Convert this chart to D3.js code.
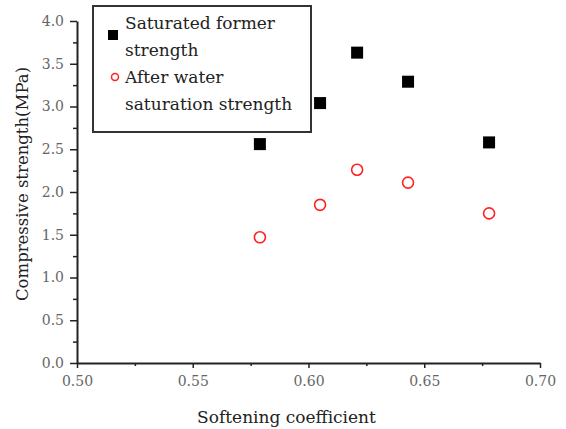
<!DOCTYPE html>
<html>
<head>
<meta charset="utf-8">
<script src="https://cdn.jsdelivr.net/npm/d3@7"></script>
<style>
  body { margin: 0; background: #fff; }
  svg { display: block; }
  .axis path, .axis line { stroke: #222; }
  .axis text { fill: #666; font-family: "DejaVu Serif", serif; font-size: 14px; }
  .lbl { fill: #222; font-family: "DejaVu Serif", serif; }
</style>
</head>
<body>
<div class="chart"></div>
<script>
// data
const softening = [0.579, 0.605, 0.621, 0.643, 0.678];
const formerStrength = [2.56, 3.04, 3.63, 3.29, 2.58];
const waterStrength = [1.47, 1.85, 2.26, 2.11, 1.75];
const xTicks = [0.50, 0.55, 0.60, 0.65, 0.70];
const yTicks = [0.0, 0.5, 1.0, 1.5, 2.0, 2.5, 3.0, 3.5, 4.0];
const legendLines = [['Saturated former', 'strength'], ['After water', 'saturation strength']];

const W = 566, H = 429;
const margin = {top: 21, right: 26, bottom: 66, left: 77};
const innerW = W - margin.left - margin.right;
const innerH = H - margin.top - margin.bottom;

const svg = d3.select('.chart').append('svg').attr('width', W).attr('height', H);
const g = svg.append('g').attr('transform', `translate(${margin.left},${margin.top})`);

const x = d3.scaleLinear().domain([0.5, 0.7]).range([0, innerW]);
const y = d3.scaleLinear().domain([0, 4]).range([innerH, 0]);

// minor ticks first
const xMinor = xTicks.slice(0, -1).map(d => d + 0.025);
const yMinor = yTicks.slice(0, -1).map(d => d + 0.25);
g.append('g').attr('class', 'axis')
  .attr('transform', `translate(0,${innerH})`)
  .call(d3.axisBottom(x).tickValues(xMinor).tickSize(3).tickFormat(''))
  .call(a => a.select('.domain').remove())
  .selectAll('line').attr('stroke-width', 1.5);
g.append('g').attr('class', 'axis')
  .call(d3.axisLeft(y).tickValues(yMinor).tickSize(4).tickFormat(''))
  .call(a => a.select('.domain').remove())
  .selectAll('line').attr('stroke-width', 1.5);

// major
const xAxis = g.append('g').attr('class', 'axis')
  .attr('transform', `translate(0,${innerH})`)
  .call(d3.axisBottom(x).tickValues(xTicks).tickSize(5).tickSizeOuter(0).tickPadding(8).tickFormat(d3.format('.2f')));
const yAxis = g.append('g').attr('class', 'axis')
  .call(d3.axisLeft(y).tickValues(yTicks).tickSize(7).tickSizeOuter(0).tickPadding(6).tickFormat(d3.format('.1f')));
[xAxis, yAxis].forEach(a => {
  a.select('.domain').attr('stroke-width', 2);
  a.selectAll('line').attr('stroke-width', 1.5);
});

// series
const sq = 12;
g.selectAll('.former').data(softening).enter().append('rect')
  .attr('class', 'former')
  .attr('x', (d, i) => x(d) - sq / 2)
  .attr('y', (d, i) => y(formerStrength[i]) - sq / 2)
  .attr('width', sq).attr('height', sq)
  .attr('fill', '#000');
g.selectAll('.water').data(softening).enter().append('circle')
  .attr('class', 'water')
  .attr('cx', d => x(d))
  .attr('cy', (d, i) => y(waterStrength[i]))
  .attr('r', 5.5)
  .attr('fill', 'none').attr('stroke', '#ff2020').attr('stroke-width', 1.6);

// legend
const lg = svg.append('g').attr('transform', 'translate(93,6)');
lg.append('rect').attr('width', 218).attr('height', 126)
  .attr('fill', '#fff').attr('stroke', '#333').attr('stroke-width', 2);
lg.append('rect').attr('x', 15).attr('y', 24).attr('width', 10).attr('height', 10).attr('fill', '#000');
lg.append('circle').attr('cx', 22).attr('cy', 71).attr('r', 3.5)
  .attr('fill', 'none').attr('stroke', '#ff2020').attr('stroke-width', 1.5);
legendLines.forEach((lines, i) => {
  lines.forEach((t, j) => {
    lg.append('text').attr('class', 'lbl')
      .attr('x', 32).attr('y', 23 + i * 54 + j * 27)
      .style('font-size', '17px')
      .text(t);
  });
});

// axis titles
svg.append('text').attr('class', 'lbl')
  .attr('x', margin.left + x(0.5905)).attr('y', 423)
  .attr('text-anchor', 'middle')
  .style('font-size', '17px')
  .text('Softening coefficient');
svg.append('text').attr('class', 'lbl')
  .attr('transform', 'translate(28,184) rotate(-90)')
  .attr('text-anchor', 'middle')
  .style('font-size', '16.5px')
  .text('Compressive strength(MPa)');
</script>
</body>
</html>
